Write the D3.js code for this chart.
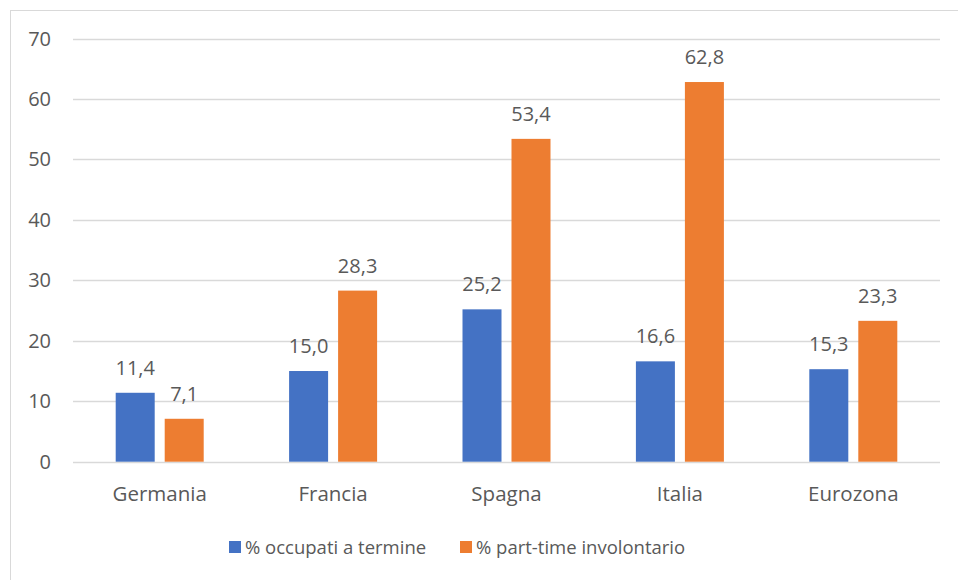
<!DOCTYPE html>
<html>
<head>
<meta charset="utf-8">
<script src="https://cdn.jsdelivr.net/npm/d3@7"></script>
<style>
  body { margin: 0; background: #fff; }
  svg text { font-family: "Open Sans", "Noto Sans", sans-serif; fill: #595959; }
</style>
</head>
<body>
<svg id="canvas" width="958" height="580"></svg>
<script>
let categories = ['Germania', 'Francia', 'Spagna', 'Italia', 'Eurozona']
let occupatiTermine = [11.4, 15.0, 25.2, 16.6, 15.3]
let partTimeInvolontario = [7.1, 28.3, 53.4, 62.8, 23.3]
let seriesNames = ['% occupati a termine', '% part-time involontario']
let seriesColors = ['#4472C4', '#ED7D31']
let yTicks = [0, 10, 20, 30, 40, 50, 60, 70]

let svg = d3.select('#canvas')

// chart frame
svg.append('rect')
    .attr('x', 10.5).attr('y', 10.5)
    .attr('width', 960).attr('height', 600)
    .attr('fill', 'none')
    .attr('stroke', '#d9d9d9')

let plotLeft = 73, plotRight = 940, plotTop = 38.5, plotBottom = 461.7

let x = d3.scaleBand().domain(categories).range([plotLeft, plotRight])
let y = d3.scaleLinear().domain([0, 70]).range([plotBottom, plotTop])

let barW = 39, gap = 10

// gridlines
svg.selectAll('.grid')
    .data(yTicks)
    .enter()
    .append('line')
    .attr('class', 'grid')
    .attr('x1', plotLeft).attr('x2', plotRight)
    .attr('y1', (d) => Math.round(y(d)) + 0.5)
    .attr('y2', (d) => Math.round(y(d)) + 0.5)
    .attr('stroke', '#d9d9d9')
    .attr('stroke-width', 1.3)

// y tick labels
svg.selectAll('.ytick')
    .data(yTicks)
    .enter()
    .append('text')
    .attr('x', 51)
    .attr('y', (d) => y(d) + 7)
    .attr('text-anchor', 'end')
    .style('font-size', '20px')
    .text((d) => d)

let fmt = (v) => v.toFixed(1).replace('.', ',')

let series = [occupatiTermine, partTimeInvolontario]
series.forEach((values, s) => {
    let offset = s === 0 ? -gap / 2 - barW : gap / 2
    let data = categories.map((c, i) => ({ cat: c, v: values[i] }))

    svg.selectAll('.bar' + s)
        .data(data)
        .enter()
        .append('rect')
        .attr('class', 'bar' + s)
        .attr('x', (d) => x(d.cat) + x.bandwidth() / 2 + offset)
        .attr('y', (d) => y(d.v))
        .attr('width', barW)
        .attr('height', (d) => y(0) - y(d.v))
        .attr('fill', seriesColors[s])

    svg.selectAll('.lbl' + s)
        .data(data)
        .enter()
        .append('text')
        .attr('class', 'lbl' + s)
        .attr('x', (d) => x(d.cat) + x.bandwidth() / 2 + offset + barW / 2)
        .attr('y', (d) => y(d.v) - 18)
        .attr('text-anchor', 'middle')
        .style('font-size', '20px')
        .text((d) => fmt(d.v))
})

// category labels
svg.selectAll('.xtick')
    .data(categories)
    .enter()
    .append('text')
    .attr('x', (d) => x(d) + x.bandwidth() / 2)
    .attr('y', 501)
    .attr('text-anchor', 'middle')
    .style('font-size', '20.5px')
    .text((d) => d)

// legend
let legendX = [229, 460]
seriesNames.forEach((name, i) => {
    svg.append('rect')
        .attr('x', legendX[i]).attr('y', 541)
        .attr('width', 12).attr('height', 12)
        .attr('fill', seriesColors[i])
    svg.append('text')
        .attr('x', legendX[i] + 16)
        .attr('y', 554)
        .style('font-size', '18.5px')
        .text(name)
})
</script>
</body>
</html>
